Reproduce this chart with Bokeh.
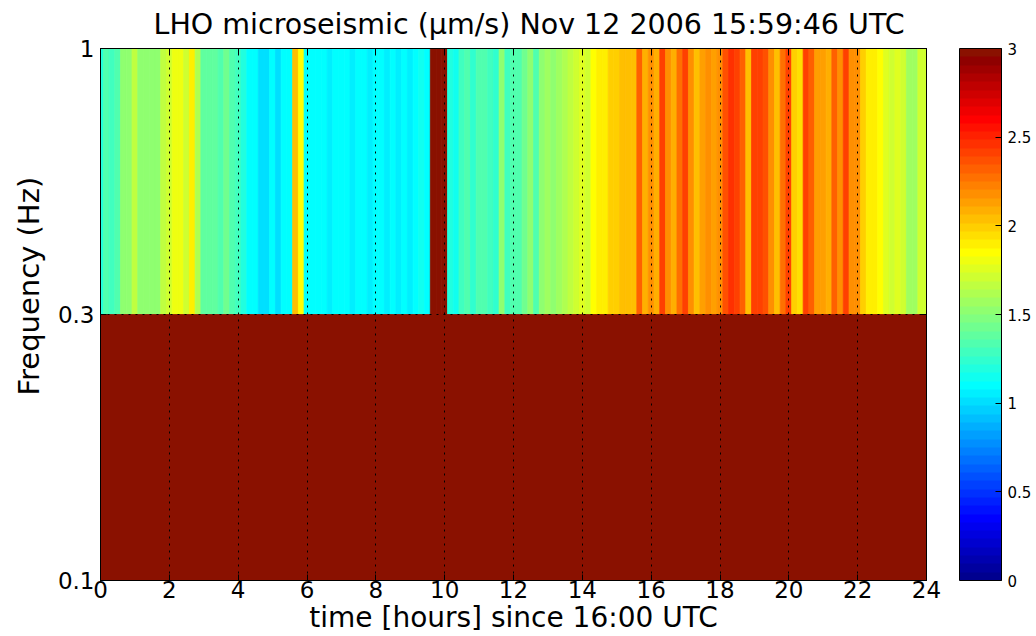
import math
from bokeh.plotting import figure
from bokeh.models import (LinearColorMapper, ColorBar, FixedTicker, LinearAxis,
                          Range1d, ColumnDataSource, Title)
from bokeh.embed import file_html
from bokeh.resources import INLINE

# ---------------- data ----------------
title_text = "LHO microseismic (\u03bcm/s) Nov 12 2006 15:59:46 UTC"
x_label = "time [hours] since 16:00 UTC"
y_label = "Frequency (Hz)"

freq_edges = [0.1, 0.3, 1]          # band edges, drawn equally spaced
freq_tick_labels = ["0.1", "0.3", "1"]
x_ticks = [0, 2, 4, 6, 8, 10, 12, 14, 16, 18, 20, 22, 24]
cbar_ticks = [0, 0.5, 1, 1.5, 2, 2.5, 3]
sample_minutes = 10                  # one column every 10 minutes, 0 .. 24 h

# band 0.3 - 1 Hz, one value per 10-minute column (um/s)
band_03_1 = [
    1.20, 1.35, 1.30, 1.35, 1.50, 1.50, 1.65, 1.50, 1.50, 1.52, 1.50, 1.65,
    1.70, 1.80, 1.80, 1.70, 1.88, 1.60, 1.40, 1.40, 1.38, 1.35, 1.45, 1.35,
    1.30, 1.20, 1.12, 1.10, 1.01, 1.00, 1.10, 1.03, 1.10, 1.10, 2.05, 1.85,
    1.10, 1.12, 1.10, 1.12, 1.05, 1.10, 1.12, 1.10, 1.05, 1.10, 1.10, 1.04,
    1.10, 1.12, 1.05, 1.10, 1.04, 1.10, 1.05, 1.09, 1.13, 1.10, 3.40, 3.40,
    3.40, 1.20, 1.15, 1.30, 1.35, 1.25, 1.35, 1.35, 1.30, 1.25, 1.50, 1.30,
    1.35, 1.35, 1.42, 1.50, 1.35, 1.50, 1.55, 1.50, 1.55, 1.60, 1.68, 1.72,
    1.75, 1.72, 1.85, 1.88, 1.90, 1.97, 2.00, 2.05, 2.05, 2.05, 2.30, 2.10,
    2.20, 2.08, 2.40, 2.20, 2.10, 2.25, 2.40, 2.20, 2.05, 2.15, 2.20, 2.15,
    2.20, 2.35, 2.45, 2.40, 2.30, 2.05, 2.40, 2.40, 2.35, 2.20, 2.05, 2.25,
    2.40, 2.00, 1.95, 2.40, 2.30, 2.15, 2.15, 2.10, 2.30, 2.20, 2.40, 2.20,
    2.20, 2.00, 1.90, 1.88, 1.85, 1.78, 1.72, 1.75, 1.70, 1.55, 1.55, 1.70,
    1.72,
]
# band 0.1 - 0.3 Hz: saturated (above colour scale) over the whole day
band_01_03_level = 3.40

# ---------------- jet(64) colour map ----------------
def jet(m):
    n = math.ceil(m / 4)
    u = [i / n for i in range(1, n + 1)] + [1.0] * (n - 1) + [i / n for i in range(n, 0, -1)]
    g0 = math.ceil(n / 2) - (1 if m % 4 == 1 else 0)
    J = [[0.0, 0.0, 0.0] for _ in range(m)]
    for p, val in enumerate(u, start=1):
        g = g0 + p
        r = g + n
        b = g - n
        if 1 <= r <= m:
            J[r - 1][0] = val
        if 1 <= g <= m:
            J[g - 1][1] = val
        if 1 <= b <= m:
            J[b - 1][2] = val
    return ["#%02x%02x%02x" % tuple(int(round(c * 255)) for c in row) for row in J]

palette = jet(64)
palette[-1] = "#8a1100"   # top colour as it appears in the reference rendering
mapper = LinearColorMapper(palette=palette, low=0, high=3,
                           low_color=palette[0], high_color=palette[-1])

n_cols = len(band_03_1)
times = [k * sample_minutes / 60 for k in range(n_cols)]
half = sample_minutes / 120

# upper band: one cell per column
src_hi = ColumnDataSource(dict(
    left=[t - half for t in times], right=[t + half for t in times],
    bottom=[1] * n_cols, top=[2] * n_cols, v=list(band_03_1)))
# lower band: uniform over the whole day -> one cell
src_lo = ColumnDataSource(dict(
    left=[times[0] - half], right=[times[-1] + half],
    bottom=[0], top=[1], v=[band_01_03_level]))

FONT = "DejaVu Sans"

p = figure(width=1036, height=636, output_backend="svg", toolbar_location=None,
           x_range=Range1d(0, 24), y_range=Range1d(0, 2),
           min_border_left=99, min_border_right=110, min_border_top=48,
           min_border_bottom=56, background_fill_color="white",
           border_fill_color="white")

for s in (src_hi, src_lo):
    p.quad(left="left", right="right", bottom="bottom", top="top", source=s,
           fill_color={"field": "v", "transform": mapper},
           line_color={"field": "v", "transform": mapper}, line_width=0.8)

# title
p.title.text = title_text
p.title.align = "left"
p.title.offset = 53
p.title.vertical_align = "top"
p.title.text_font = FONT
p.title.text_font_size = "28.5px"
p.title.text_font_style = "normal"
p.title.text_color = "black"
p.title.standoff = 11

# axes
p.xaxis.ticker = FixedTicker(ticks=x_ticks)
p.yaxis.ticker = FixedTicker(ticks=[0, 1, 2])
p.yaxis.major_label_overrides = {i: s for i, s in enumerate(freq_tick_labels)}
p.xaxis.axis_label = x_label
for ax in (p.xaxis[0], p.yaxis[0]):
    ax.axis_label_text_font = FONT
    ax.axis_label_text_font_size = "28px"
    ax.axis_label_text_font_style = "normal"
    ax.axis_label_text_color = "black"
    ax.major_label_text_font = FONT
    ax.major_label_text_font_size = "23px"
    ax.major_label_text_color = "black"
    ax.major_tick_in = 6
    ax.major_tick_out = 0
    ax.minor_tick_line_color = None
    ax.axis_line_color = "black"
    ax.major_tick_line_color = "black"
p.xaxis.major_label_standoff = 0
p.xaxis.axis_label_standoff = 0
p.yaxis.major_label_standoff = 6

# y label as a side title so it can sit where the reference has it
ylab = Title(text=y_label, align="left", offset=185, vertical_align="bottom",
             text_font=FONT, text_font_size="29px", text_font_style="normal",
             text_color="black", standoff=18)
p.add_layout(ylab, "left")

ax_top = LinearAxis(ticker=FixedTicker(ticks=x_ticks), major_label_text_font_size="1px",
                    major_label_text_color=None,
                    major_tick_in=6, major_tick_out=0, minor_tick_line_color=None,
                    axis_line_color="black", major_label_standoff=0)
p.add_layout(ax_top, "above")
ax_right = LinearAxis(ticker=FixedTicker(ticks=[0, 1, 2]), major_label_text_font_size="1px",
                      major_label_text_color=None,
                      major_tick_in=6, major_tick_out=0, minor_tick_line_color=None,
                      axis_line_color="black", major_label_standoff=0)
p.add_layout(ax_right, "right")

# grid: dotted, on top of the image
p.xgrid.ticker = FixedTicker(ticks=x_ticks)
p.ygrid.ticker = FixedTicker(ticks=[1])
for g in (p.xgrid[0], p.ygrid[0]):
    g.grid_line_color = "black"
    g.grid_line_dash = "2 5"
    g.grid_line_width = 1
    g.level = "overlay"

p.outline_line_color = "black"

cbar = ColorBar(color_mapper=mapper, ticker=FixedTicker(ticks=cbar_ticks),
                width=42, height=532, location=(33, 0), margin=0, padding=0,
                label_standoff=6, major_label_text_font=FONT,
                major_label_text_font_size="15px", major_label_text_color="black",
                major_tick_line_color="black", major_tick_in=6, major_tick_out=0,
                bar_line_color="black", border_line_color=None,
                background_fill_color=None)
p.add_layout(cbar, "right")

open("out.html", "w").write(file_html(p, INLINE))
